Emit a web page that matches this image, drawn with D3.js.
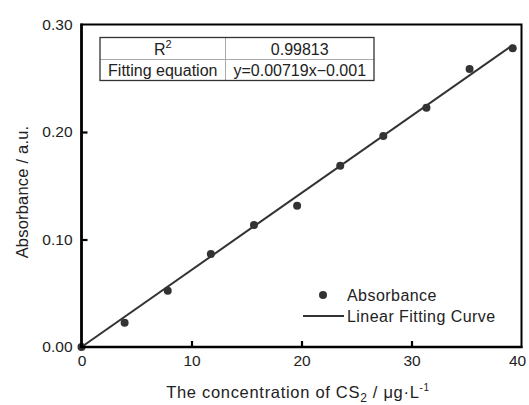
<!DOCTYPE html>
<html><head><meta charset="utf-8">
<script src="https://cdn.jsdelivr.net/npm/d3@7"></script>
<style>body{margin:0;background:#fff}svg{display:block;font-family:"Liberation Sans",Arial,sans-serif}</style>
</head><body><svg id="c" width="529" height="405"></svg>
<script>
const concentration = [0, 3.92, 7.84, 11.76, 15.68, 19.6, 23.52, 27.44, 31.36, 35.28, 39.2];
const absorbance = [0.0, 0.0226, 0.0524, 0.0865, 0.1135, 0.1314, 0.1687, 0.1963, 0.2226, 0.2586, 0.2779];
const slope = 0.00719, intercept = -0.001;
const xTicks = [0, 10, 20, 30, 40];
const yTicks = [0.00, 0.10, 0.20, 0.30];
const tableRows = [["R\u00b2", "0.99813"], ["Fitting equation", "y=0.00719x\u22120.001"]];
const legendLabels = ["Absorbance", "Linear Fitting Curve"];

const svg = d3.select("#c");
const L = 81.5, R = 521.5, T = 24.5, B = 347;
const x = d3.scaleLinear().domain([0, 40]).range([L, R]);
const y = d3.scaleLinear().domain([0, 0.30]).range([B, T]);
const ink = "#333";

// fit line
const fx = [0, concentration[concentration.length - 1]];
svg.append("path")
  .attr("d", d3.line().x(d => x(d)).y(d => y(Math.max(0, slope * d + intercept)))(fx))
  .attr("stroke", ink).attr("stroke-width", 2).attr("fill", "none");

// points
svg.selectAll("circle.pt").data(concentration).join("circle")
  .attr("class", "pt")
  .attr("cx", d => x(d)).attr("cy", (d, i) => y(absorbance[i]))
  .attr("r", 4).attr("fill", ink);

// frame
svg.append("rect").attr("x", L).attr("y", T).attr("width", R - L).attr("height", B - T)
  .attr("fill", "none").attr("stroke", "#000").attr("stroke-width", 2);
svg.append("line").attr("x1", L).attr("x2", L).attr("y1", T - 1).attr("y2", B + 1).attr("stroke", "#000").attr("stroke-width", 2.6);
svg.append("line").attr("x1", L - 1).attr("x2", R + 1).attr("y1", B).attr("y2", B).attr("stroke", "#000").attr("stroke-width", 2.6);

// axes
const xa = svg.append("g").attr("transform", `translate(0,${B})`)
  .call(d3.axisBottom(x).tickValues(xTicks).tickSize(-6).tickPadding(8).tickFormat(d3.format("d")));
const ya = svg.append("g").attr("transform", `translate(${L},0)`)
  .call(d3.axisLeft(y).tickValues(yTicks).tickSize(-6).tickPadding(9).tickFormat(d3.format(".2f")));
[xa, ya].forEach(g => {
  g.select(".domain").remove();
  g.selectAll(".tick line").attr("stroke", "#000").attr("stroke-width", 2.2);
  g.selectAll(".tick text").attr("fill", "#222").style("font-size", "15.5px").style("font-family", "Liberation Sans, Arial, sans-serif");
});
xa.selectAll(".tick").filter(d => d === 0 || d === 40).select("line").remove();
xa.selectAll(".tick").filter(d => d === 40).select("text").attr("dx", -4.5);
ya.selectAll(".tick").filter(d => d === 0 || d === 0.3).select("line").remove();

// axis titles
svg.append("text").attr("transform", `translate(28,192) rotate(-90)`)
  .attr("text-anchor", "middle").attr("fill", "#222").style("font-size", "16.5px")
  .style("letter-spacing", "0.2px").text("Absorbance / a.u.");
const xt = svg.append("text").attr("x", 298).attr("y", 398).attr("text-anchor", "middle")
  .attr("fill", "#222").style("font-size", "16.5px").style("letter-spacing", "0.7px");
xt.append("tspan").text("The concentration of CS");
xt.append("tspan").attr("dy", 4).style("font-size", "12px").text("2");
xt.append("tspan").attr("dy", -4).text(" / \u03bcg\u00b7L");
xt.append("tspan").attr("dy", -7).style("font-size", "10px").text("-1");

// table
const tx0 = 100, tx1 = 225.5, tx2 = 374, ty0 = 37.5, ty1 = 59.5, ty2 = 80.5;
const tb = svg.append("g");
tb.append("line").attr("x1", tx0).attr("x2", tx2).attr("y1", ty1).attr("y2", ty1).attr("stroke", "#aaa").attr("stroke-width", 1);
tb.append("line").attr("x1", tx1).attr("x2", tx1).attr("y1", ty0).attr("y2", ty2).attr("stroke", "#aaa").attr("stroke-width", 1);
tb.append("rect").attr("x", tx0).attr("y", ty0).attr("width", tx2 - tx0).attr("height", ty2 - ty0)
  .attr("fill", "none").attr("stroke", "#333").attr("stroke-width", 1.3);
const cx = [(tx0 + tx1) / 2, (tx1 + tx2) / 2], cy = [(ty0 + ty1) / 2 + 6, (ty1 + ty2) / 2 + 6];
tableRows.forEach((row, ri) => row.forEach((cell, ci) => {
  const t = tb.append("text").attr("x", cx[ci]).attr("y", cy[ri]).attr("text-anchor", "middle")
    .attr("fill", "#222").style("font-size", "16px");
  if (cell === "R\u00b2") {
    t.append("tspan").text("R");
    t.append("tspan").attr("dy", -7).style("font-size", "11px").text("2");
  } else t.text(cell);
}));

// legend
const lg = svg.append("g");
lg.append("circle").attr("cx", 323).attr("cy", 295).attr("r", 4).attr("fill", ink);
lg.append("text").attr("x", 347).attr("y", 300.5).attr("fill", "#222").style("font-size", "16px")
  .style("letter-spacing", "0.45px").text(legendLabels[0]);
lg.append("line").attr("x1", 303).attr("x2", 344).attr("y1", 316).attr("y2", 316).attr("stroke", ink).attr("stroke-width", 2);
lg.append("text").attr("x", 347).attr("y", 322).attr("fill", "#222").style("font-size", "16px")
  .style("letter-spacing", "0.45px").text(legendLabels[1]);
</script></body></html>
